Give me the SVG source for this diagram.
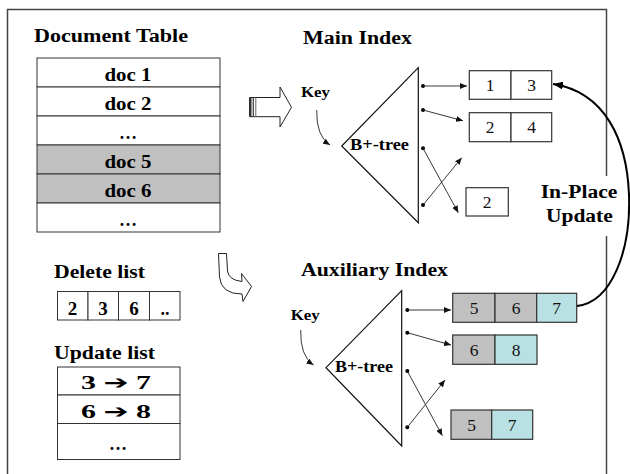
<svg xmlns="http://www.w3.org/2000/svg" width="630" height="474" viewBox="0 0 630 474">
<defs>
<style>
.t{font-family:"Liberation Serif","Times New Roman",serif;font-weight:bold;fill:#000}
.n{font-family:"Liberation Serif","Times New Roman",serif;font-size:17.5px;fill:#111;text-anchor:middle}
.c{text-anchor:middle}
.ar{font-family:"DejaVu Sans",sans-serif;font-weight:bold}
.cell{fill:#fff;stroke:#333;stroke-width:1}
.g{fill:#c0c0c0}
.cy{fill:#b9e1e3}
.bx{stroke:#333;stroke-width:1.2}
.ln{fill:none;stroke:#222;stroke-width:0.9}
.tri{fill:#fff;stroke:#111;stroke-width:1.2}
</style>
<marker id="ah" markerUnits="userSpaceOnUse" markerWidth="7" markerHeight="6" refX="7" refY="3" orient="auto"><path d="M0,0 L7,3 L0,6 z" fill="#111"/></marker>
<marker id="ahb" markerUnits="userSpaceOnUse" markerWidth="10" markerHeight="8" refX="10" refY="4" orient="auto"><path d="M0,0 L10,4 L0,8 z" fill="#000"/></marker>
</defs>
<rect x="0" y="0" width="630" height="474" fill="#fff"/>
<rect x="7.5" y="9.5" width="599" height="480" fill="none" stroke="#444" stroke-width="1.5"/>

<g id="doc-table">
<text class="t" x="34" y="42" font-size="18" textLength="154" lengthAdjust="spacingAndGlyphs">Document Table</text>
<rect class="cell" x="37" y="58" width="183" height="29"/>
<rect class="cell" x="37" y="87" width="183" height="29"/>
<rect class="cell" x="37" y="116" width="183" height="29"/>
<rect class="cell g" x="37" y="145" width="183" height="29"/>
<rect class="cell g" x="37" y="174" width="183" height="29"/>
<rect class="cell" x="37" y="203" width="183" height="29"/>
<text class="t c" x="128" y="81" font-size="18" textLength="47" lengthAdjust="spacingAndGlyphs">doc 1</text>
<text class="t c" x="128" y="110" font-size="18" textLength="47" lengthAdjust="spacingAndGlyphs">doc 2</text>
<text class="t c" x="128" y="139" font-size="18">…</text>
<text class="t c" x="128" y="168" font-size="18" textLength="47" lengthAdjust="spacingAndGlyphs">doc 5</text>
<text class="t c" x="128" y="197" font-size="18" textLength="47" lengthAdjust="spacingAndGlyphs">doc 6</text>
<text class="t c" x="128" y="226" font-size="18">…</text>
</g>

<g id="delete-list">
<text class="t" x="54" y="278" font-size="18" textLength="91" lengthAdjust="spacingAndGlyphs">Delete list</text>
<rect class="cell" x="57.5" y="291.5" width="30.5" height="28.5"/>
<rect class="cell" x="88" y="291.5" width="30.5" height="28.5"/>
<rect class="cell" x="118.5" y="291.5" width="31" height="28.5"/>
<rect class="cell" x="149.5" y="291.5" width="30.5" height="28.5"/>
<text class="t c" x="72.5" y="315" font-size="19">2</text>
<text class="t c" x="103" y="315" font-size="19">3</text>
<text class="t c" x="134" y="315" font-size="19">6</text>
<text class="t c" x="165" y="315" font-size="18">..</text>
</g>

<g id="update-list">
<text class="t" x="54" y="359" font-size="18" textLength="101" lengthAdjust="spacingAndGlyphs">Update list</text>
<rect class="cell" x="57.5" y="367" width="122.5" height="28"/>
<rect class="cell" x="57.5" y="395" width="122.5" height="28.5"/>
<rect class="cell" x="57.5" y="423.5" width="122.5" height="36"/>
<text class="t c" x="116" y="389" font-size="19" textLength="70" lengthAdjust="spacingAndGlyphs">3 <tspan class="ar" font-size="19">➔</tspan> 7</text>
<text class="t c" x="116" y="418" font-size="19" textLength="70" lengthAdjust="spacingAndGlyphs">6 <tspan class="ar" font-size="19">➔</tspan> 8</text>
<text class="t c" x="118" y="450" font-size="18">…</text>
</g>

<g id="block-arrow-right">
<path d="M249.5 97.5 L280 97.5 L280 87 L291.5 107.3 L280 127 L280 116.7 L249.5 116.7 Z" fill="#fff" stroke="#222" stroke-width="1"/>
<line x1="250.5" y1="97.5" x2="250.5" y2="116.7" stroke="#333" stroke-width="2"/>
<line x1="253.3" y1="97.5" x2="253.3" y2="116.7" stroke="#444" stroke-width="1.3"/>
<line x1="255.8" y1="97.5" x2="255.8" y2="116.7" stroke="#666" stroke-width="1"/>
</g>

<g id="block-arrow-turn">
<path d="M218.5 253.5 L226.5 253.5 L227.5 271 Q228.5 280 242 281.5 L241.5 273.5 L251.5 286.5 L243 301.5 L242 294 Q221 294 219.5 277 Z" fill="#fff" stroke="#222" stroke-width="1"/>
</g>

<g id="main-index">
<text class="t" x="303" y="44" font-size="18" textLength="109" lengthAdjust="spacingAndGlyphs">Main Index</text>
<text class="t" x="301" y="97" font-size="15" textLength="29" lengthAdjust="spacingAndGlyphs">Key</text>
<path class="tri" d="M418.3 67.7 L341.7 146 L418.3 222.7 Z"/>
<text class="t" x="350" y="150" font-size="16" textLength="59" lengthAdjust="spacingAndGlyphs">B+-tree</text>
<circle cx="423" cy="86" r="2"/>
<circle cx="423" cy="110" r="2"/>
<circle cx="423" cy="148.3" r="2"/>
<circle cx="423" cy="205" r="2"/>
</g>

<g id="main-box-13">
<rect class="bx" x="469.3" y="70.7" width="41.7" height="28.6" fill="#fff"/>
<rect class="bx" x="511" y="70.7" width="40.7" height="28.6" fill="#fff"/>
<text class="n" x="490" y="91">1</text>
<text class="n" x="531.5" y="91">3</text>
</g>
<g id="main-box-24">
<rect class="bx" x="469.3" y="112.7" width="41.7" height="29" fill="#fff"/>
<rect class="bx" x="511" y="112.7" width="40.7" height="29" fill="#fff"/>
<text class="n" x="490" y="133">2</text>
<text class="n" x="531.5" y="133">4</text>
</g>
<g id="main-box-2">
<rect class="bx" x="466" y="187.7" width="42.3" height="28.3" fill="#fff"/>
<text class="n" x="487" y="208">2</text>
</g>

<g id="aux-index">
<text class="t" x="301" y="276" font-size="18" textLength="147" lengthAdjust="spacingAndGlyphs">Auxiliary Index</text>
<text class="t" x="290.7" y="320" font-size="15" textLength="29" lengthAdjust="spacingAndGlyphs">Key</text>
<path class="tri" d="M401.7 290.7 L326 367.7 L401.7 446 Z"/>
<text class="t" x="335" y="372" font-size="16" textLength="58" lengthAdjust="spacingAndGlyphs">B+-tree</text>
<circle cx="407.3" cy="310" r="2"/>
<circle cx="407.3" cy="332.7" r="2"/>
<circle cx="407.3" cy="371" r="2"/>
<circle cx="407.3" cy="427.3" r="2"/>
</g>

<g id="aux-box-567">
<rect class="bx g" x="452.7" y="293.3" width="42.3" height="29"/>
<rect class="bx g" x="495" y="293.3" width="41.7" height="29"/>
<rect class="bx cy" x="536.7" y="293.3" width="40" height="29"/>
<text class="n" x="474" y="314">5</text>
<text class="n" x="516" y="314">6</text>
<text class="n" x="556.5" y="314">7</text>
</g>
<g id="aux-box-68">
<rect class="bx g" x="452.7" y="335" width="42.3" height="29.3"/>
<rect class="bx cy" x="495" y="335" width="42" height="29.3"/>
<text class="n" x="474" y="356">6</text>
<text class="n" x="516" y="356">8</text>
</g>
<g id="aux-box-57">
<rect class="bx g" x="451" y="410" width="40.7" height="29.3"/>
<rect class="bx cy" x="491.7" y="410" width="41" height="29.3"/>
<text class="n" x="471.5" y="431">5</text>
<text class="n" x="512" y="431">7</text>
</g>

<g id="connectors">
<path class="ln" d="M316.7 110 Q316 136 330 145" marker-end="url(#ah)"/>
<path class="ln" d="M300.7 330 Q300 356 313.5 365" marker-end="url(#ah)"/>
<line class="ln" x1="423" y1="86" x2="467" y2="86" marker-end="url(#ah)"/>
<line class="ln" x1="423" y1="110" x2="463" y2="120.7" marker-end="url(#ah)"/>
<line class="ln" x1="423" y1="148.3" x2="458.3" y2="212.7" marker-end="url(#ah)"/>
<line class="ln" x1="423" y1="205" x2="461.7" y2="157.7" marker-end="url(#ah)"/>
<line class="ln" x1="407.3" y1="310" x2="451" y2="310" marker-end="url(#ah)"/>
<line class="ln" x1="407.3" y1="332.7" x2="451" y2="345" marker-end="url(#ah)"/>
<line class="ln" x1="407.3" y1="371" x2="442.3" y2="435.7" marker-end="url(#ah)"/>
<line class="ln" x1="407.3" y1="427.3" x2="445" y2="380" marker-end="url(#ah)"/>
<path d="M577 306 C612 302 631 250 629 195 C627 140 605 92 553 84" fill="none" stroke="#000" stroke-width="2" marker-end="url(#ahb)"/>
</g>

<g id="in-place-label">
<rect x="538" y="176" width="80" height="60" fill="#fff"/>
<text class="t" x="540.7" y="198" font-size="18" textLength="76.6" lengthAdjust="spacingAndGlyphs">In-Place</text>
<text class="t" x="546" y="222" font-size="18" textLength="66.7" lengthAdjust="spacingAndGlyphs">Update</text>
</g>
</svg>
